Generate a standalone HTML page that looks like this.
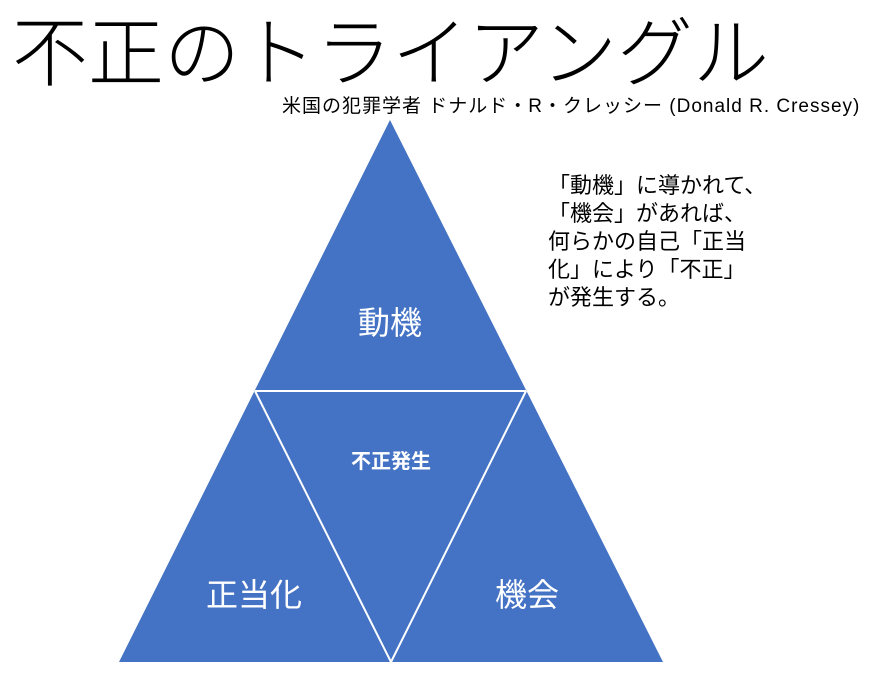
<!DOCTYPE html>
<html><head><meta charset="utf-8"><style>
body{margin:0;width:878px;height:689px;background:#fff;overflow:hidden;font-family:"Liberation Sans","Noto Sans CJK JP",sans-serif;}
.t{position:absolute;white-space:nowrap;color:#000;}
</style></head><body>
<div class="t" style="left:12px;top:-8px;font-size:76px;font-weight:300;">不正のトライアングル</div>
<div class="t" style="left:282px;top:91px;font-size:19px;letter-spacing:1px;">米国の犯罪学者 ドナルド・R・クレッシー (Donald R. Cressey)</div>
<div class="t" style="left:548px;top:172px;font-size:22px;line-height:28px;">「動機」に導かれて、<br>「機会」があれば、<br>何らかの自己「正当<br>化」により「不正」<br>が発生する。</div>
<svg width="878" height="689" style="position:absolute;left:0;top:0">
<polygon points="390,120 119,662 663,662" fill="#4472c4"/>
<line x1="255" y1="391" x2="526" y2="391" stroke="#fff" stroke-width="2"/>
<polyline points="255,391 391,662 526,391" fill="none" stroke="#fff" stroke-width="2"/>
<g fill="#fff" font-family="Liberation Sans,Noto Sans CJK JP,sans-serif" text-anchor="middle">
<text x="390" y="334" font-size="32">動機</text>
<text x="391" y="468" font-size="20" font-weight="bold">不正発生</text>
<text x="254" y="606" font-size="32">正当化</text>
<text x="527" y="606" font-size="32">機会</text>
</g>
</svg>
</body></html>
